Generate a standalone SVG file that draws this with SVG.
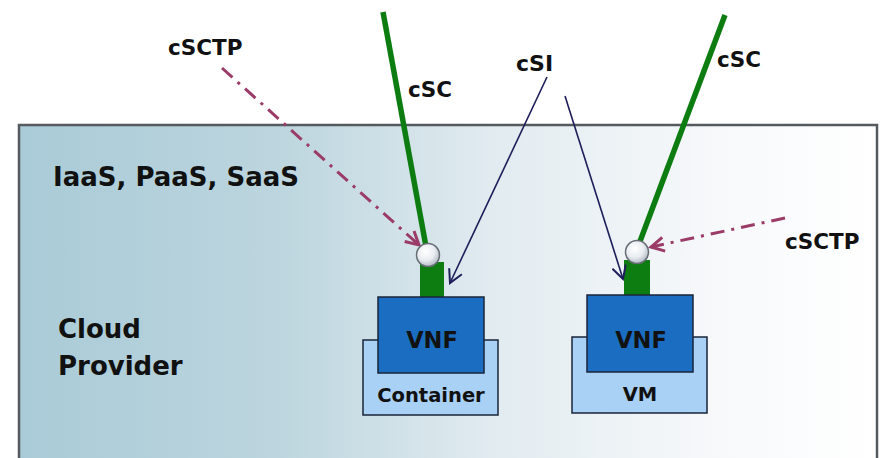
<svg xmlns="http://www.w3.org/2000/svg" width="885" height="458" viewBox="0 0 885 458">
  <defs>
    <linearGradient id="bg" x1="0" y1="0" x2="1" y2="0">
      <stop offset="0" stop-color="#a9cbd7"/>
      <stop offset="0.3" stop-color="#bcd5de"/>
      <stop offset="0.55" stop-color="#e1ebf0"/>
      <stop offset="0.8" stop-color="#f6f8fa"/>
      <stop offset="1" stop-color="#ffffff"/>
    </linearGradient>
    <radialGradient id="knob" cx="0.4" cy="0.35" r="0.7">
      <stop offset="0" stop-color="#ffffff"/>
      <stop offset="0.55" stop-color="#e9edf1"/>
      <stop offset="1" stop-color="#aab4be"/>
    </radialGradient>
    <marker id="navyArrow" markerUnits="userSpaceOnUse" markerWidth="16" markerHeight="16" viewBox="0 0 16 16" refX="14" refY="8" orient="auto">
      <path d="M1,1 L14,8 L1,15" fill="none" stroke="#1e1e5a" stroke-width="2"/>
    </marker>
    <marker id="maroonArrow" markerUnits="userSpaceOnUse" markerWidth="18" markerHeight="18" viewBox="0 0 18 18" refX="15" refY="9" orient="auto">
      <path d="M2,2 L15,9 L2,16" fill="none" stroke="#9a3b68" stroke-width="3"/>
    </marker>
  </defs>
  <style>
    .lbl { font-family: "DejaVu Sans", Verdana, sans-serif; font-weight: bold; fill: #111111; }
    .green { stroke: #0d7d12; stroke-width: 5.5; fill: none; }
    .stem { fill: #0d7d12; }
    .vnf { fill: #1b6dc1; stroke: #1a2438; stroke-width: 1.5; }
    .host { fill: #a9d0f5; stroke: #1a2438; stroke-width: 1.5; }
    .knob { fill: url(#knob); stroke: #666d74; stroke-width: 1.5; }
    .csi { stroke: #1e1e5a; stroke-width: 1.6; fill: none; marker-end: url(#navyArrow); }
    .csctp { stroke: #9a3b68; stroke-width: 3; fill: none; stroke-dasharray: 14 7 3 7; marker-end: url(#maroonArrow); }
  </style>

  <g id="cloud-provider">
    <rect x="19" y="125" width="858" height="345" fill="url(#bg)" stroke="#555a5e" stroke-width="2.5"/>
    <text class="lbl" x="53" y="186" font-size="26">IaaS, PaaS, SaaS</text>
    <text class="lbl" x="58" y="338" font-size="26">Cloud</text>
    <text class="lbl" x="58" y="375" font-size="26">Provider</text>
  </g>

  <g id="container-node">
    <rect class="host" x="363" y="340" width="135" height="75"/>
    <text class="lbl" x="431" y="402" font-size="19.5" text-anchor="middle">Container</text>
    <rect class="stem" x="420" y="262" width="24" height="36"/>
    <rect class="vnf" x="378" y="297" width="106" height="76"/>
    <text class="lbl" x="432" y="348" font-size="22.5" text-anchor="middle">VNF</text>
  </g>

  <g id="vm-node">
    <rect class="host" x="572" y="337" width="135" height="76"/>
    <text class="lbl" x="640" y="401" font-size="19.5" text-anchor="middle">VM</text>
    <rect class="stem" x="624" y="260" width="26" height="37"/>
    <rect class="vnf" x="587" y="295" width="106" height="77"/>
    <text class="lbl" x="641" y="348" font-size="22.5" text-anchor="middle">VNF</text>
  </g>

  <g id="connectors">
    <line class="green" x1="383" y1="12" x2="427" y2="252"/>
    <line class="green" x1="725" y1="15" x2="636" y2="252"/>
    <line class="csi" x1="547" y1="77" x2="450" y2="283"/>
    <line class="csi" x1="565" y1="96" x2="623" y2="279"/>
    <line class="csctp" x1="222" y1="68" x2="419" y2="245"/>
    <line class="csctp" x1="785" y1="218" x2="651" y2="247"/>
  </g>

  <g id="endpoint-left">
    <circle class="knob" cx="428" cy="255" r="11.5"/>
  </g>
  <g id="endpoint-right">
    <circle class="knob" cx="637" cy="252" r="11.5"/>
  </g>

  <g id="labels">
    <text class="lbl" x="168" y="55" font-size="21.5">cSCTP</text>
    <text class="lbl" x="408" y="97" font-size="21.5">cSC</text>
    <text class="lbl" x="516" y="71" font-size="22">cSI</text>
    <text class="lbl" x="717" y="67" font-size="21.5">cSC</text>
    <text class="lbl" x="785" y="249" font-size="21.5">cSCTP</text>
  </g>
</svg>
